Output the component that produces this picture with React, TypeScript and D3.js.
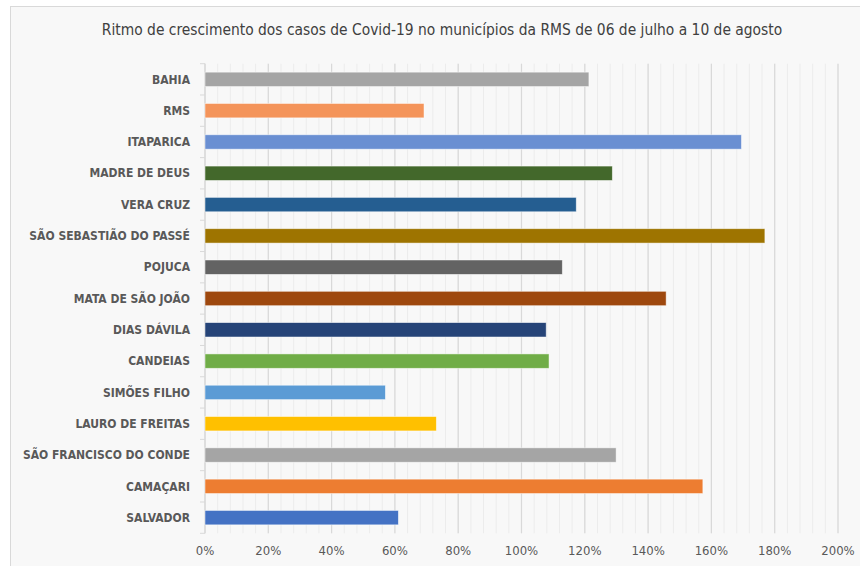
import React from "react";
import * as d3 from "d3";

const TITLE = "Ritmo de crescimento dos casos de Covid-19 no municípios da RMS de 06 de julho a 10 de agosto";

const categories = [
  "BAHIA",
  "RMS",
  "ITAPARICA",
  "MADRE DE DEUS",
  "VERA CRUZ",
  "SÃO SEBASTIÃO DO PASSÉ",
  "POJUCA",
  "MATA DE SÃO JOÃO",
  "DIAS DÁVILA",
  "CANDEIAS",
  "SIMÕES FILHO",
  "LAURO DE FREITAS",
  "SÃO FRANCISCO DO CONDE",
  "CAMAÇARI",
  "SALVADOR",
];

const values = [1.213, 0.692, 1.695, 1.287, 1.173, 1.769, 1.129, 1.457, 1.078, 1.087, 0.57, 0.731, 1.299, 1.573, 0.611];

const colors = [
  "#A5A5A5",
  "#F4945A",
  "#6A8FD2",
  "#43682B",
  "#255E91",
  "#9E7400",
  "#636363",
  "#9E480E",
  "#264478",
  "#70AD47",
  "#5B9BD5",
  "#FFC000",
  "#A5A5A5",
  "#ED7D31",
  "#4472C4",
];

const xTicks = [0, 0.2, 0.4, 0.6, 0.8, 1.0, 1.2, 1.4, 1.6, 1.8, 2.0];
const minorTicks = d3.range(0, 51).map((i) => i * 0.04);

const W = 860;
const H = 566;
const FONT = "'DejaVu Sans Condensed', 'Liberation Sans', sans-serif";

export default function App() {
  const x = d3.scaleLinear().domain([0, 2]).range([205, 838]);
  const y = d3.scaleBand().domain(categories).range([63.7, 533.3]).paddingInner(0.54).paddingOuter(0.27);
  const band = d3.scaleBand().domain(categories).range([63.7, 533.3]);

  return (
    <svg width={W} height={H} style={{ position: "absolute", left: 0, top: 0, background: "#ffffff" }}>
      <rect x={10.5} y={6.5} width={W} height={H} fill="#f8f8f8" stroke="#d9d9d9" strokeWidth={1} />
      <text x={442} y={35} textAnchor="middle" fontFamily={FONT} fontSize={15.4} fill="#404040">
        {TITLE}
      </text>
      {minorTicks.map((v, i) => (
        <line key={"m" + i} x1={x(v)} x2={x(v)} y1={63.7} y2={533.3} stroke="#ececec" strokeWidth={1} />
      ))}
      {xTicks.map((v, i) => (
        <line key={"g" + i} x1={x(v)} x2={x(v)} y1={63.7} y2={533.3} stroke="#d9d9d9" strokeWidth={1.2} />
      ))}
      <line x1={x(0)} x2={x(0)} y1={63.7} y2={533.3} stroke="#d9d9d9" strokeWidth={1} />
      {categories.map((c, i) => (
        <line key={"t" + i} x1={x(0) - 5} x2={x(0)} y1={band(c)!} y2={band(c)!} stroke="#d9d9d9" />
      ))}
      <line x1={x(0) - 5} x2={x(0)} y1={533.3} y2={533.3} stroke="#d9d9d9" />
      {categories.map((c, i) => (
        <rect
          key={"b" + i}
          x={x(0)}
          y={y(c)!}
          width={x(values[i]) - x(0)}
          height={y.bandwidth()}
          fill={colors[i]}
          stroke="#ffffff"
          strokeOpacity={0.6}
          strokeWidth={0.8}
        />
      ))}
      {categories.map((c, i) => (
        <text
          key={"l" + i}
          x={190}
          y={y(c)! + y.bandwidth() / 2}
          dy="0.35em"
          textAnchor="end"
          fontFamily={FONT}
          fontWeight="bold"
          fontSize={12}
          fill="#595959"
        >
          {c}
        </text>
      ))}
      {xTicks.map((v, i) => (
        <text
          key={"x" + i}
          x={x(v)}
          y={550}
          dy="0.35em"
          textAnchor="middle"
          fontFamily={FONT}
          fontSize={13}
          fill="#595959"
        >
          {d3.format(".0%")(v)}
        </text>
      ))}
    </svg>
  );
}
